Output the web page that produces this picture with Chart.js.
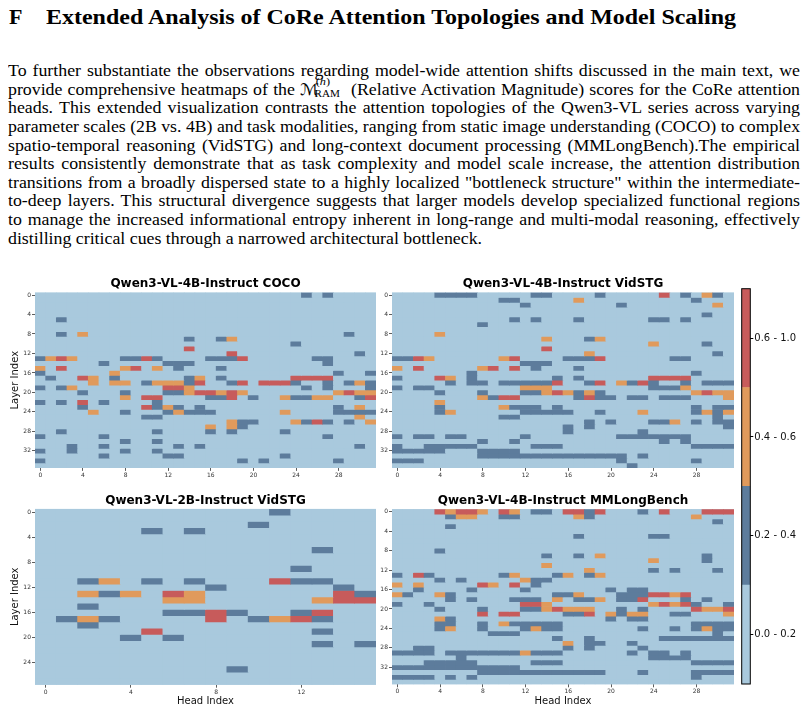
<!DOCTYPE html>
<html>
<head>
<meta charset="utf-8">
<title>CoRe attention heatmaps</title>
<script src="https://cdn.jsdelivr.net/npm/chart.js@4.4.1/dist/chart.umd.min.js"></script>
<style>
  html, body { margin: 0; padding: 0; background: #fff; }
  body { position: relative; width: 807px; height: 712px; overflow: hidden; }
  .ln { position: absolute; left: 8px; white-space: nowrap; font-family: "Liberation Serif", "Times New Roman", serif; font-size: 16px; line-height: 16px; color: #000; transform-origin: 0 0; }
  .ttl { font-weight: bold; font-size: 22px; line-height: 22px; }
  .mth { position: relative; padding-right: 24px; font-family: "DejaVu Sans", "DejaVu Serif", serif; }
  .mth .sp, .mth .sb { position: absolute; font-family: "Liberation Serif", serif; font-size: 11px; line-height: 11px; }
  .mth .sp { left: 14px; top: -4px; }
  .mth .sb { left: 13px; top: 8px; font-size: 10px; }
  canvas { position: absolute; }
</style>
</head>
<body>
<div class="ln ttl" style="left:9px;top:6.1px">F</div>
<div class="ln ttl" data-w="690" style="left:46px;top:6.1px">Extended Analysis of CoRe Attention Topologies and Model Scaling</div>

<div class="ln" data-w="792" style="top:63.1px">To further substantiate the observations regarding model-wide attention shifts discussed in the main text, we</div>
<div class="ln" data-w="792" style="top:81.7px">provide comprehensive heatmaps of the <span class="mth">ℳ<span class="sp">(<i>h</i>)</span><span class="sb">RAM</span></span> (Relative Activation Magnitude) scores for the CoRe attention</div>
<div class="ln" data-w="792" style="top:100.3px">heads. This extended visualization contrasts the attention topologies of the Qwen3-VL series across varying</div>
<div class="ln" data-w="792" style="top:118.9px">parameter scales (2B vs. 4B) and task modalities, ranging from static image understanding (COCO) to complex</div>
<div class="ln" data-w="792" style="top:137.5px">spatio-temporal reasoning (VidSTG) and long-context document processing (MMLongBench).The empirical</div>
<div class="ln" data-w="792" style="top:156.1px">results consistently demonstrate that as task complexity and model scale increase, the attention distribution</div>
<div class="ln" data-w="792" style="top:174.7px">transitions from a broadly dispersed state to a highly localized "bottleneck structure" within the intermediate-</div>
<div class="ln" data-w="792" style="top:193.3px">to-deep layers. This structural divergence suggests that larger models develop specialized functional regions</div>
<div class="ln" data-w="792" style="top:211.9px">to manage the increased informational entropy inherent in long-range and multi-modal reasoning, effectively</div>
<div class="ln" id="lastLine" style="top:230.5px">distilling critical cues through a narrowed architectural bottleneck.</div>

<canvas id="cocoChart" width="380" height="210" style="left:0;top:276px"></canvas>
<canvas id="vid4Chart" width="360" height="210" style="left:380px;top:276px"></canvas>
<canvas id="vid2Chart" width="380" height="222" style="left:0;top:490px"></canvas>
<canvas id="mmlChart" width="360" height="222" style="left:380px;top:490px"></canvas>
<canvas id="cbarChart" width="67" height="412" style="left:740px;top:280px"></canvas>

<script>
// score bins, one colour each (0 = lowest)
var levelLabels = ["0.0 - 0.2", "0.2 - 0.4", "0.4 - 0.6", "0.6 - 1.0"];
var levelColors = ["#a9c9dd", "#5d7c9c", "#e09a5c", "#c75b5b"];

var heads4B = [0, 1, 2, 3, 4, 5, 6, 7, 8, 9, 10, 11, 12, 13, 14, 15,
               16, 17, 18, 19, 20, 21, 22, 23, 24, 25, 26, 27, 28, 29, 30, 31];
var heads2B = [0, 1, 2, 3, 4, 5, 6, 7, 8, 9, 10, 11, 12, 13, 14, 15];
var headTicks4B = [0, 4, 8, 12, 16, 20, 24, 28];
var headTicks2B = [0, 4, 8, 12];
var layerTicks4B = [0, 4, 8, 12, 16, 20, 24, 28, 32];
var layerTicks2B = [0, 4, 8, 12, 16, 20, 24];

// one string per layer, one digit per head = score bin
var coco4B = [
  "00000000 00000000 00000000 01010000",
  "00000000 00000000 00000000 00000000",
  "00000000 00000000 00000000 00000000",
  "00000000 00000000 00000000 00000000",
  "00000000 00000000 00000000 00000000",
  "00100000 00000000 00000000 00000000",
  "00000000 00000000 00000000 00000000",
  "00000000 00000000 00000000 00000000",
  "00102000 00000000 00000000 00000100",
  "00000000 00000010 01200000 00000000",
  "00000000 00000000 00000000 10000000",
  "00000000 00000030 00000000 00000000",
  "00000000 00000000 00300000 00000010",
  "12320000 11310000 11130000 00110000",
  "00000010 00001110 00000000 00010000",
  "20300000 23020100 01000000 00000000",
  "10000002 00000000 00000000 00001001",
  "01003201 00000012 01000000 33330000",
  "00000202 20122213 00130333 10010121",
  "10120000 00003320 00000000 01010001",
  "00001000 10001123 32320000 00002322",
  "00000000 20330000 11301002 11220013",
  "10103010 00010000 00000000 00000000",
  "00001000 00312101 00000000 00001020",
  "00000200 10001211 10000002 00001111",
  "00000000 00110000 00000000 00000020",
  "00000000 00000000 00211000 21310102",
  "00000000 00000000 20210000 00000000",
  "00100000 00010000 10100001 00000000",
  "10000010 00000000 00000000 00010000",
  "00000000 10010000 00000000 00000000",
  "00010010 00000101 00000000 00000010",
  "10010000 10010000 00000000 00000000",
  "00000010 00001100 00000001 00000000",
  "10000000 00000000 00010100 00001000",
  "00000000 00000000 00000000 00000000"
];

var vidstg4B = [
  "00001111 00000110 00010000 03010210",
  "00000000 00110000 02000000 00001000",
  "00000000 00001000 00000100 00000020",
  "00000000 00000000 00000000 00000000",
  "00000000 00000000 00000000 00000100",
  "00000000 00010100 01000000 11010000",
  "00000000 10000000 00000000 00000000",
  "00000000 00000000 00000000 00000000",
  "00002000 00000000 00000000 00000000",
  "00000000 00000020 00120000 00000000",
  "00000000 00000000 00000000 20000100",
  "00000000 00000030 00000000 00000000",
  "00000000 00000000 00200000 00000010",
  "11320000 00230000 11130000 00110000",
  "00000000 00001110 00000000 00000000",
  "20300000 23030100 01000000 00000000",
  "00000001 00000000 00000000 00001000",
  "10003201 00000001 01000000 33330000",
  "00000101 10111113 00130213 10010111",
  "10110000 00002220 00000000 11120000",
  "00001000 10001123 21210000 00002322",
  "00000000 21330000 01311011 01110002",
  "00002000 00000000 00000000 00000000",
  "00001000 00211101 00000000 00001011",
  "00001200 00001111 10010002 00001212",
  "00000000 00110000 00000000 00000010",
  "00000000 00000000 00101000 11201011",
  "00000000 00000000 10100000 00000001",
  "00000000 00000000 10000001 00000000",
  "10110110 00001000 00000111 11110000",
  "00000000 10010000 00000000 01010000",
  "10011111 00000111 00000000 00001111",
  "11111000 11110000 00000000 00000000",
  "00000000 11111111 11111101 00000000",
  "11100000 00000000 00000100 00001000",
  "00000000 00000000 00000010 00000000"
];

var vidstg2B = [
  "00000000 00010000",
  "00000000 00000000",
  "00000000 00100000",
  "00000101 00000000",
  "00000000 00000000",
  "00000000 00000000",
  "00000000 00000100",
  "00000000 00000000",
  "00000000 00000000",
  "00000000 00001000",
  "00000000 00000000",
  "00120101 00031100",
  "00000000 10000010",
  "00212032 00000031",
  "00000022 00000233",
  "00100000 00000000",
  "00000011 31001300",
  "01210000 30123100",
  "00100000 00000000",
  "00000300 00000100",
  "00001010 00000000",
  "00000000 00000101",
  "00000000 00000000",
  "00000000 00000000",
  "00000000 00000000",
  "00000000 01000000",
  "00000000 00000000",
  "00000000 00000000"
];

var mmlong4B = [
  "00003233 20320110 33130001 03000333",
  "00000122 00110000 02100000 00002000",
  "00000000 00000000 00000000 00000010",
  "00000100 00000000 00000000 00000000",
  "00000000 00000000 00000000 00000000",
  "00000000 00000000 01000000 11000000",
  "00000000 00000000 00000000 00000000",
  "00000000 00000000 00000000 00000000",
  "00001000 00000000 00000000 00000000",
  "00000000 00000010 01020000 00000100",
  "00000000 00000000 00000000 20000100",
  "00000000 00000020 00000000 00000000",
  "00000000 00000000 00200000 10100010",
  "10310000 00120001 20120000 00000000",
  "00001010 00002110 00000000 00000000",
  "20200000 32030100 00000000 00000000",
  "00100001 00001000 00001011 00000000",
  "21002100 00000001 12000111 33230000",
  "00000101 00011102 01120113 00010100",
  "10010000 00003320 00000000 23231001",
  "00001000 10001123 22200101 00003223",
  "00000000 30330000 11302122 00110002",
  "00002100 00000000 00001011 00000000",
  "00001100 10211111 00000000 00001111",
  "00001200 10001211 00000001 00101211",
  "00000000 01110000 00000000 00000010",
  "00000000 00000001 00100000 01111111",
  "00000000 00000000 20110010 00000000",
  "00110000 00000000 10100001 00000000",
  "11110111 11112111 00000010 11010000",
  "00000010 00000000 00000000 11110000",
  "00011111 00000111 00000000 00001111",
  "11111111 11110000 00000000 00000000",
  "00000000 11111111 11110001 00001111",
  "11110101 00000000 00000000 00001000",
  "00000000 00000000 00000000 00000000"
];

Chart.defaults.font.family = '"DejaVu Sans", sans-serif';
Chart.defaults.color = "#222";

// light background under the cells + chart title over the plot area
var heatFrame = {
  id: "heatFrame",
  beforeDatasetsDraw: function(chart) {
    var a = chart.chartArea, ctx = chart.ctx;
    ctx.save();
    ctx.fillStyle = levelColors[0];
    ctx.fillRect(a.left, a.top, a.right - a.left, a.bottom - a.top);
    ctx.restore();
  },
  afterDraw: function(chart, args, opts) {
    if (!opts.text) return;
    var a = chart.chartArea, ctx = chart.ctx;
    ctx.save();
    ctx.font = 'bold 12px "DejaVu Sans"';
    ctx.fillStyle = "#000";
    ctx.textAlign = "center";
    ctx.textBaseline = "middle";
    ctx.fillText(opts.text, (a.left + a.right) / 2, a.top - opts.gap);
    ctx.restore();
  }
};

function makeHeatmap(id, title, grid, heads, headTicks, layerTicks, box) {
  var datasets = grid.map(function(rowStr, r) {
    var row = rowStr.replace(/ /g, "").split("").map(Number);
    return {
      label: "Layer " + r,
      data: row.map(function() { return [r - 0.5, r + 0.5]; }),
      backgroundColor: row.map(function(v) { return levelColors[v]; }),
      borderWidth: 0,
      grouped: false,
      categoryPercentage: 1,
      barPercentage: 1
    };
  });

  var tickStyle = { drawOnChartArea: false, tickLength: 3, tickColor: "#333", tickWidth: 0.8 };

  new Chart(document.getElementById(id), {
    type: "bar",
    data: { labels: heads, datasets: datasets },
    options: {
      responsive: false,
      animation: false,
      layout: { padding: { top: box.padTop, right: box.padRight, left: 0, bottom: 0 } },
      plugins: {
        legend: { display: false },
        tooltip: { enabled: false },
        heatFrame: { text: title, gap: box.gap }
      },
      scales: {
        x: {
          type: "category",
          offset: true,
          border: { display: false },
          grid: Object.assign({ offset: false }, tickStyle),
          ticks: { autoSkip: false, maxRotation: 0, padding: 1, color: "#333", font: { size: 6 } },
          afterBuildTicks: function(s) {
            s.ticks = s.ticks.filter(function(t) { return headTicks.indexOf(heads[t.value]) >= 0; });
          },
          afterFit: function(s) { s.height = box.xHeight; },
          title: { display: box.xTitle, text: "Head Index", color: "#111", font: { size: 10 }, padding: { top: 0, bottom: 5 } }
        },
        y: {
          type: "linear",
          reverse: true,
          min: -0.5,
          max: grid.length - 0.5,
          border: { display: false },
          grid: tickStyle,
          ticks: { padding: 1, color: "#333", font: { size: 6 } },
          afterBuildTicks: function(s) {
            s.ticks = layerTicks.map(function(v) { return { value: v }; });
          },
          afterFit: function(s) { s.width = box.yWidth; },
          title: { display: box.yTitle, text: "Layer Index", color: "#111", font: { size: 10 }, padding: { top: 9.5, bottom: 0 } }
        }
      }
    },
    plugins: [heatFrame]
  });
}

makeHeatmap("cocoChart", "Qwen3-VL-4B-Instruct COCO", coco4B, heads4B, headTicks4B, layerTicks4B,
  { padTop: 16.6, padRight: 4, yWidth: 35, xHeight: 18.1, gap: 8.6, yTitle: true, xTitle: false });
makeHeatmap("vid4Chart", "Qwen3-VL-4B-Instruct VidSTG", vidstg4B, heads4B, headTicks4B, layerTicks4B,
  { padTop: 16.6, padRight: 6, yWidth: 12, xHeight: 18.1, gap: 8.6, yTitle: false, xTitle: false });
makeHeatmap("vid2Chart", "Qwen3-VL-2B-Instruct VidSTG", vidstg2B, heads2B, headTicks2B, layerTicks2B,
  { padTop: 18.9, padRight: 4, yWidth: 35, xHeight: 27.3, gap: 8, yTitle: true, xTitle: true });
makeHeatmap("mmlChart", "Qwen3-VL-4B-Instruct MMLongBench", mmlong4B, heads4B, headTicks4B, layerTicks4B,
  { padTop: 19.3, padRight: 6, yWidth: 12, xHeight: 27.7, gap: 8, yTitle: false, xTitle: true });

// discrete colour bar
var cbarFrame = {
  id: "cbarFrame",
  afterDatasetsDraw: function(chart) {
    var a = chart.chartArea, ctx = chart.ctx;
    ctx.save();
    ctx.strokeStyle = "#000";
    ctx.lineWidth = 1;
    ctx.strokeRect(a.left, a.top, a.right - a.left, a.bottom - a.top);
    ctx.restore();
  }
};

new Chart(document.getElementById("cbarChart"), {
  type: "bar",
  data: {
    labels: [""],
    datasets: levelLabels.map(function(l, i) {
      return {
        label: l,
        data: [[i, i + 1]],
        backgroundColor: levelColors[i],
        borderWidth: 0,
        grouped: false,
        categoryPercentage: 1,
        barPercentage: 1
      };
    })
  },
  options: {
    responsive: false,
    animation: false,
    layout: { padding: { left: 1.7, top: 8.7, bottom: 8, right: 0 } },
    plugins: { legend: { display: false }, tooltip: { enabled: false } },
    scales: {
      x: { display: false },
      y: {
        position: "right",
        min: 0,
        max: levelLabels.length,
        border: { display: false },
        grid: { drawOnChartArea: false, tickLength: 3, tickColor: "#000", tickWidth: 1 },
        ticks: {
          padding: 1,
          color: "#111",
          font: { size: 10 },
          callback: function(v, i) { return levelLabels[i]; }
        },
        afterBuildTicks: function(s) {
          s.ticks = levelLabels.map(function(l, i) { return { value: i + 0.5 }; });
        },
        afterFit: function(s) { s.width = 56.7; }
      }
    }
  },
  plugins: [cbarFrame]
});

// glyphs in the reference are a bit wider than Liberation Serif:
// stretch every line by the same factor, then justify with word spacing
function fitLines() {
  var last = document.getElementById("lastLine");
  var k = 474 / last.getBoundingClientRect().width;
  last.style.transform = "scaleX(" + k + ")";
  document.querySelectorAll(".ln[data-w]").forEach(function(el) {
    var target = +el.getAttribute("data-w") / k;
    var w = el.getBoundingClientRect().width;
    var spaces = (el.textContent.match(/ /g) || []).length;
    if (w < target && spaces) el.style.wordSpacing = ((target - w) / spaces) + "px";
    el.style.transform = "scaleX(" + (w > target ? target / w * k : k) + ")";
  });
}
if (document.fonts && document.fonts.ready) document.fonts.ready.then(fitLines); else fitLines();
</script>
</body>
</html>
